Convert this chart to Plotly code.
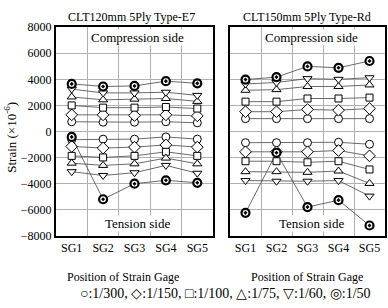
import plotly.graph_objects as go

W, H = 388, 308
sg_labels = ["SG1", "SG2", "SG3", "SG4", "SG5"]
sg_pos = [1, 2, 3, 4, 5]
ratios = ["1/300", "1/150", "1/100", "1/75", "1/60", "1/50"]

# CLT120mm 5Ply Type-E7 : compression side
c300_L = [750, 720, 720, 750, 670]
c150_L = [1280, 1280, 1230, 1280, 1200]
c100_L = [2000, 1830, 1830, 1880, 1760]
c75_L = [2650, 2430, 2480, 2530, 2310]
c60_L = [3250, 2960, 2960, 3010, 2770]
c50_L = [3650, 3450, 3490, 3860, 3690]
# CLT120mm 5Ply Type-E7 : tension side
t300_L = [-620, -580, -580, -410, -580]
t150_L = [-1140, -1260, -1190, -1020, -1190]
t100_L = [-1860, -1980, -1860, -1550, -1860]
t75_L = [-2420, -2590, -2470, -2030, -2470]
t60_L = [-3070, -3360, -3150, -2590, -3190]
t50_L = [-410, -5180, -3990, -3730, -3920]

# CLT150mm 5Ply Type-Rd : compression side
c300_R = [990, 990, 990, 990, 990]
c150_R = [1520, 1520, 1690, 1640, 1760]
c100_R = [2290, 2290, 2530, 2530, 2600]
c75_R = [3160, 3210, 3450, 3450, 3570]
c60_R = [3640, 3760, 4050, 4000, 4120]
c50_R = [3980, 4170, 4990, 4880, 5400]
# CLT150mm 5Ply Type-Rd : tension side
t300_R = [-850, -850, -850, -820, -970]
t150_R = [-1550, -1550, -1550, -1450, -1860]
t100_R = [-2270, -2270, -2350, -2270, -2900]
t75_R = [-3070, -3070, -3120, -3020, -3970]
t60_R = [-3750, -3800, -3800, -3750, -4940]
t50_R = [-6220, -1620, -5780, -5250, -7190]

symbols = ["circle", "diamond", "square", "triangle-up", "triangle-down", "circle-dot"]
sizes = [8, 9, 7, 8, 8, 8]

left_series = [c300_L, c150_L, c100_L, c75_L, c60_L, c50_L,
               t300_L, t150_L, t100_L, t75_L, t60_L, t50_L]
right_series = [c300_R, c150_R, c100_R, c75_R, c60_R, c50_R,
                t300_R, t150_R, t100_R, t75_R, t60_R, t50_R]

FONT = "Liberation Serif"

fig = go.Figure()

def add(series_list, xa, ya):
    for i, ys in enumerate(series_list):
        k = i % 6
        dot = symbols[k] == "circle-dot"
        fig.add_trace(go.Scatter(
            x=sg_pos, y=ys, xaxis=xa, yaxis=ya, mode="lines+markers",
            line=dict(color="#444444", width=0.8),
            marker=dict(symbol=symbols[k], size=sizes[k], color="white",
                        line=dict(color="black", width=2.2 if dot else 1)),
            showlegend=False, hoverinfo="skip"))

add(left_series, "x", "y")
add(right_series, "x2", "y2")

def px_x(p):
    return p / W

def px_y(p):
    return 1 - p / H

xd1 = [px_x(56), px_x(213)]
xd2 = [px_x(230), px_x(385)]
yd = [px_y(240), px_y(21)]

axis_common = dict(showline=True, mirror=True, linecolor="black", linewidth=2,
                   zeroline=False, ticks="")
xax = dict(axis_common, range=[0.5, 5.5], tickvals=sg_pos, ticktext=sg_labels,
           showgrid=False, tickfont=dict(family=FONT, size=12, color="black"),
           minor=dict(tickvals=[1.5, 2.5, 3.5, 4.5], showgrid=True,
                      gridcolor="#b0b0b0", gridwidth=1, ticks=""))
yax = dict(axis_common, range=[-8000, 8000], dtick=2000, showgrid=True,
           gridcolor="#b0b0b0", gridwidth=1,
           tickfont=dict(family=FONT, size=12, color="black"))

fig.update_layout(
    width=W, height=H, margin=dict(l=0, r=0, t=0, b=0),
    paper_bgcolor="white", plot_bgcolor="white",
    xaxis=dict(xax, domain=xd1, anchor="y"),
    yaxis=dict(yax, domain=yd, anchor="x"),
    xaxis2=dict(xax, domain=xd2, anchor="y2"),
    yaxis2=dict(yax, domain=yd, anchor="x2", showticklabels=False),
)

anns = [
    ("CLT120mm 5Ply Type-E7", 131, 10, 12, None),
    ("CLT150mm 5Ply Type-Rd", 307, 10, 12, None),
    ("Compression side", 137, 32, 13, "white"),
    ("Compression side", 311, 32, 13, "white"),
    ("Tension side", 137, 227, 13, "white"),
    ("Tension side", 311, 227, 13, "white"),
    ("Position of Strain Gage", 123, 283, 12, None),
    ("Position of Strain Gage", 307, 283, 12, None),
    ("\u25CB:1/300, \u25C7:1/150, \u25A1:1/100, \u25B3:1/75, \u25BD:1/60, \u25CE:1/50", 225, 300, 14, None),
]
for text, x, y, s, bg in anns:
    fig.add_annotation(text=text, x=px_x(x), y=px_y(y), xref="paper", yref="paper",
                       showarrow=False, xanchor="center", yanchor="middle",
                       font=dict(family=FONT, size=s, color="black"),
                       bgcolor=bg if bg else "rgba(0,0,0,0)", borderpad=0)

fig.add_annotation(text="Strain (\u00D710<sup>-6</sup>)", x=px_x(10), y=px_y(137),
                   xref="paper", yref="paper", showarrow=False, textangle=-90,
                   xanchor="center", yanchor="middle",
                   font=dict(family=FONT, size=13, color="black"))

fig.write_html("out.html", config={"displayModeBar": False, "staticPlot": True},
               post_script="document.body.style.margin='0';document.body.style.overflow='hidden';")
